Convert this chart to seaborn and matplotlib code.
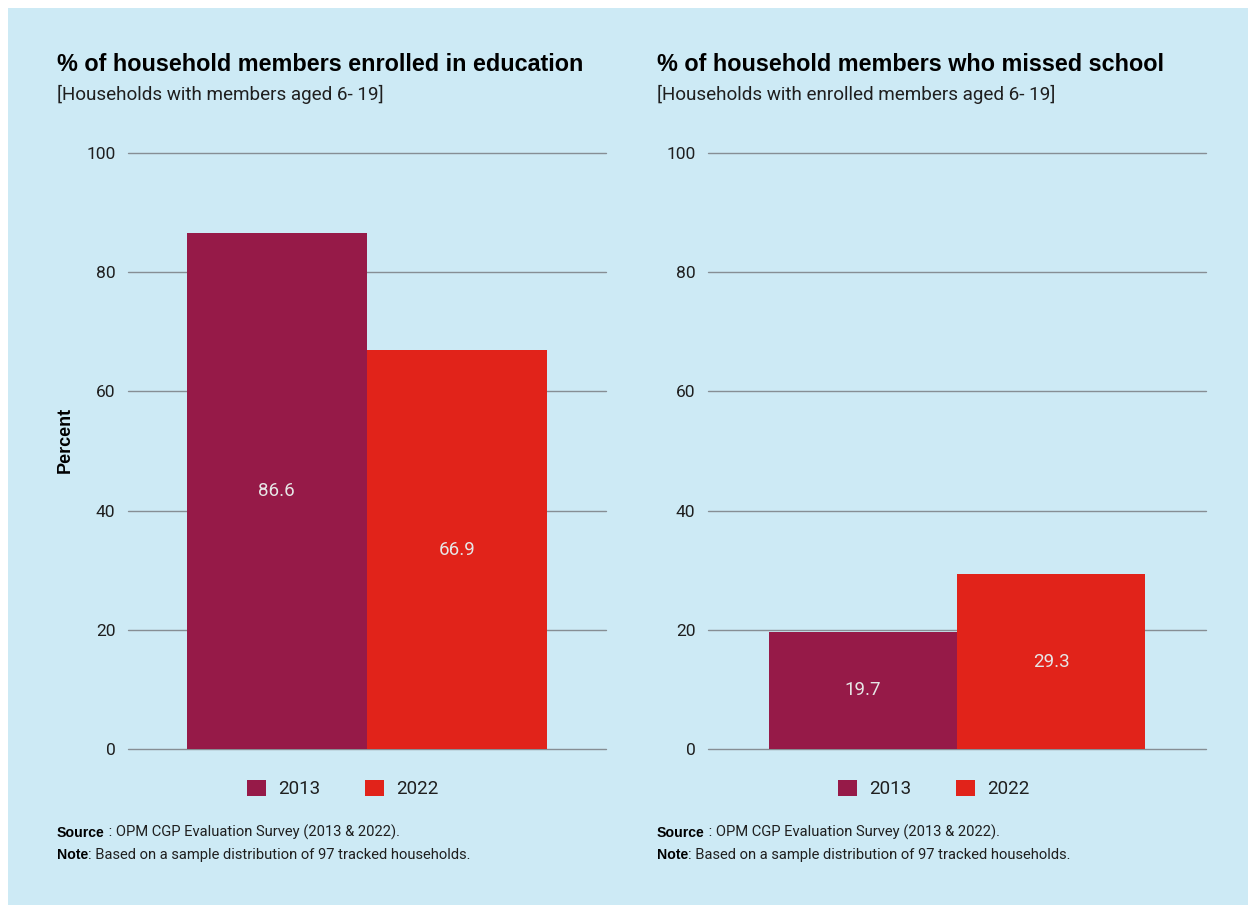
import matplotlib
matplotlib.use("Agg")
import matplotlib.pyplot as plt
import seaborn as sns
import pandas as pd
from matplotlib.patches import Rectangle, Patch

# --- data ---------------------------------------------------------------
years = ["2013", "2022"]
enrolled = [86.6, 66.9]
missed = [19.7, 29.3]
yticks = [0, 20, 40, 60, 80, 100]
titles = ["% of household members enrolled in education",
          "% of household members who missed school"]
subtitles = ["[Households with members aged 6- 19]",
             "[Households with enrolled members aged 6- 19]"]
source_label = "Source"
source_text = " : OPM CGP Evaluation Survey (2013 & 2022)."
note_label = "Note"
note_text = ": Based on a sample distribution of 97 tracked households."

# --- style --------------------------------------------------------------
colors = ["#961a48", "#e1231a"]
bg = "#cdeaf5"
grid_col = "#868e94"
text_col = "#1f1f1f"

W, H = 1248, 905
sns.set_theme(style="white")
plt.rcParams["font.family"] = ["Roboto", "DejaVu Sans"]
BOLD = ["Liberation Sans", "DejaVu Sans"]


def fx(px):
    return px / W


def fy(py):
    return 1 - py / H


fig = plt.figure(figsize=(W / 100, H / 100), dpi=100, facecolor="white")
fig.patches.append(Rectangle((fx(8), 0), 1 - fx(8), 1 - 8 / H,
                             transform=fig.transFigure, facecolor=bg,
                             edgecolor="none", zorder=-10))

panels = [
    dict(vals=enrolled, left=128, right=606, title_x=57, legend_cx=343),
    dict(vals=missed, left=708, right=1206, title_x=657, legend_cx=934),
]
ax_top, ax_bot = 153, 749

for i, p in enumerate(panels):
    ax = fig.add_axes([fx(p["left"]), fy(ax_bot), fx(p["right"] - p["left"]),
                       (ax_bot - ax_top) / H])
    ax.set_facecolor("none")
    df = pd.DataFrame({"group": ["all"] * len(years), "year": years,
                       "value": p["vals"]})
    sns.barplot(data=df, x="group", y="value", hue="year", palette=colors,
                width=0.8, saturation=1, legend=False, ax=ax, zorder=2,
                edgecolor="none", linewidth=0)
    for c in ax.containers:
        ax.bar_label(c, fmt="%.1f", label_type="center", color="#e6e6e6",
                     fontsize=13.5)
    ax.set_xlim(-0.53, 0.53)
    ax.set_ylim(0, 100)
    ax.set_yticks(yticks)
    ax.set_xticks([])
    ax.set_xlabel("")
    ax.set_ylabel("")
    ax.set_axisbelow(True)
    ax.yaxis.grid(True, color=grid_col, linewidth=1.0, zorder=0)
    for gl in ax.get_ygridlines():
        gl.set_clip_on(False)
    ax.tick_params(axis="y", length=0, pad=9, labelsize=12.5,
                   labelcolor=text_col)
    for s in ax.spines.values():
        s.set_visible(False)

    tx = p["title_x"]
    fig.text(fx(tx), fy(71), titles[i], fontsize=16.85, fontweight="bold",
             family=BOLD, color="black", va="baseline", ha="left")
    fig.text(fx(tx), fy(100), subtitles[i], fontsize=13.55,
             color=text_col, va="baseline", ha="left")

    handles = [Patch(facecolor=c, edgecolor="none") for c in colors]
    fig.legend(handles=handles, labels=years, loc="center",
               bbox_to_anchor=(fx(p["legend_cx"]), fy(789)), ncol=2,
               frameon=False, handlelength=1.0, handleheight=1.0,
               handletextpad=0.65, columnspacing=2.4,
               prop={"size": 13.5}, labelcolor=text_col)

    # source / note lines: bold lead-in followed by regular text
    for label, rest, base in [(source_label, source_text, 837),
                              (note_label, note_text, 859)]:
        t = fig.text(fx(tx), fy(base), label, fontsize=10.2, fontweight="bold",
                     family=BOLD, color="black", va="baseline", ha="left")
        fig.canvas.draw()
        bb = t.get_window_extent()
        fig.text(bb.x1 / W, fy(base), rest, fontsize=10.6, color=text_col,
                 va="baseline", ha="left")

fig.text(fx(65), fy(440), "Percent", fontsize=13, fontweight="bold",
         family=BOLD, rotation=90, va="center", ha="center", color="black")

fig.savefig("out.png", dpi=100, facecolor="white")
